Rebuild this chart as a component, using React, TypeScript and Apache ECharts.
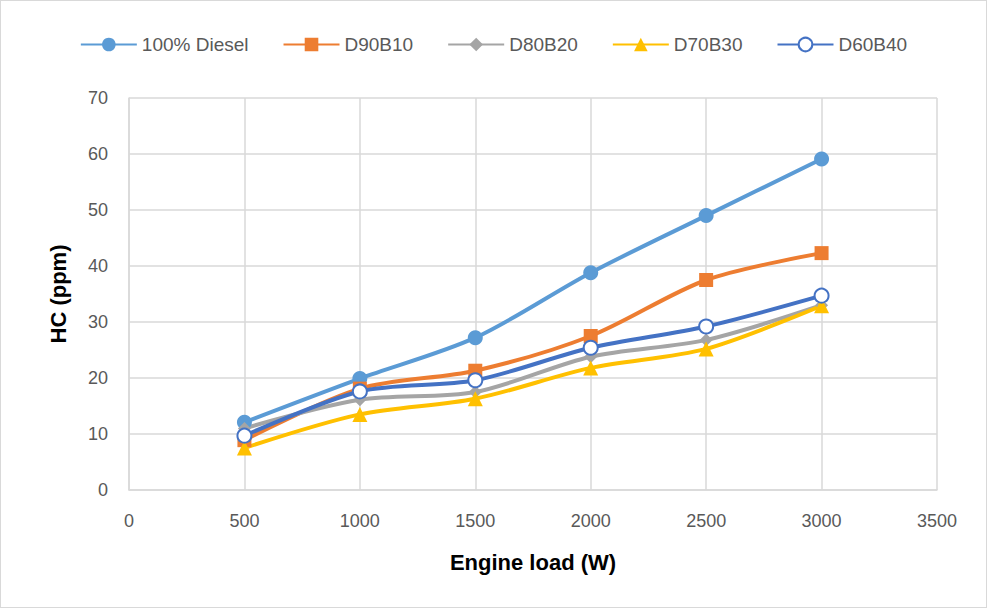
import React, { useEffect, useRef } from "react";
import * as echarts from "echarts";

const loads = [500, 1000, 1500, 2000, 2500, 3000];
const diesel = [12.1, 19.9, 27.2, 38.8, 49.0, 59.1];
const d90b10 = [8.9, 18.1, 21.3, 27.5, 37.5, 42.3];
const d80b20 = [11.0, 16.1, 17.5, 23.8, 26.8, 33.0];
const d70b30 = [7.5, 13.5, 16.3, 21.8, 25.2, 32.9];
const d60b40 = [9.7, 17.6, 19.6, 25.4, 29.2, 34.7];

const seriesNames = ["100% Diesel", "D90B10", "D80B20", "D70B30", "D60B40"];
const colors = ["#5B9BD5", "#ED7D31", "#A5A5A5", "#FFC000", "#4472C4"];

const FONT = "'Liberation Sans', 'Open Sans', sans-serif";

export default function App() {
  const ref = useRef<HTMLDivElement>(null);
  useEffect(() => {
    const chart = echarts.init(ref.current!, null, { renderer: "svg" });
    const datasets = [diesel, d90b10, d80b20, d70b30, d60b40];
    const symbols = ["circle", "rect", "diamond", "triangle", "emptyCircle"];
    const sizes = [15, 14, 13, 15, 14];
    chart.setOption({
      animation: false,
      backgroundColor: "#ffffff",
      textStyle: { fontFamily: FONT },
      legend: {
        top: 29,
        left: "center",
        itemWidth: 56,
        itemHeight: 17,
        itemGap: 34,
        textStyle: { fontSize: 19, color: "#595959", fontFamily: FONT },
        data: seriesNames,
      },
      grid: { left: 128, right: 49, top: 97, bottom: 117, containLabel: false },
      xAxis: {
        type: "value",
        min: 0,
        max: 3500,
        interval: 500,
        name: "Engine load (W)",
        nameLocation: "middle",
        nameGap: 61,
        nameTextStyle: { fontSize: 22, fontWeight: "bold", color: "#000", fontFamily: FONT },
        axisLine: { show: true, lineStyle: { color: "#d9d9d9", width: 1.5 } },
        axisTick: { show: false },
        axisLabel: {
          fontSize: 18,
          color: "#595959",
          margin: 22,
          fontFamily: FONT,
          formatter: (v: number) => String(v),
        },
        splitLine: { show: true, lineStyle: { color: "#d9d9d9", width: 1.5 } },
      },
      yAxis: {
        type: "value",
        min: 0,
        max: 70,
        interval: 10,
        name: "HC (ppm)",
        nameLocation: "middle",
        nameGap: 60,
        nameRotate: 90,
        nameTextStyle: { fontSize: 22, fontWeight: "bold", color: "#000", fontFamily: FONT },
        axisLine: { show: true, lineStyle: { color: "#d9d9d9", width: 1.5 } },
        axisTick: { show: false },
        axisLabel: { fontSize: 18, color: "#595959", margin: 21, fontFamily: FONT },
        splitLine: { show: true, lineStyle: { color: "#d9d9d9", width: 1.5 } },
      },
      series: datasets.map((d, i) => ({
        name: seriesNames[i],
        type: "line",
        smooth: 0.3,
        data: loads.map((x, j) => [x, d[j]]),
        symbol: symbols[i],
        symbolSize: sizes[i],
        showAllSymbol: true,
        color: colors[i],
        lineStyle: { width: 4, color: colors[i] },
        itemStyle: i === 4
          ? { color: colors[i], borderWidth: 2 }
          : { color: colors[i] },
      })),
    });
    return () => chart.dispose();
  }, []);
  return (
    <div
      style={{
        position: "fixed",
        left: 0,
        top: 0,
        width: 987,
        height: 608,
        boxSizing: "border-box",
        border: "1px solid #d9d9d9",
        background: "#fff",
      }}
    >
      <div ref={ref} style={{ width: 985, height: 606 }} />
    </div>
  );
}
